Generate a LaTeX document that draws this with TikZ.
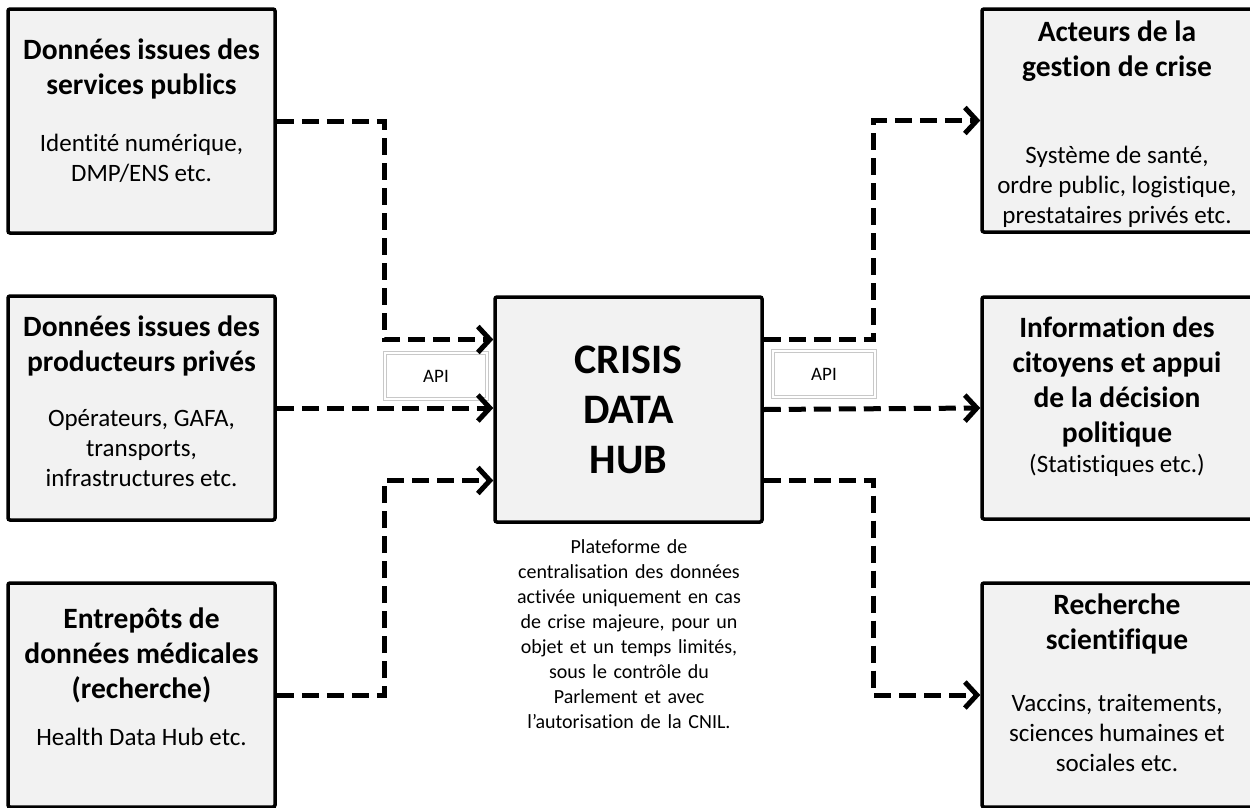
\documentclass[tikz,border=0pt]{standalone}
\usepackage{fontspec}
\setmainfont[Ligatures=NoCommon]{Carlito}
\usetikzlibrary{arrows.meta,positioning}
\definecolor{boxgray}{RGB}{242,242,242}
\definecolor{apiline}{RGB}{200,200,200}

% title, body, gap between them, padding below (raises the text)
\newcommand{\pane}[4]{\vbox{\hsize=255pt\centering
  {\fontsize{29.5}{35}\selectfont\bfseries #1\par}\vskip#3
  {\fontsize{25}{30}\selectfont #2\par}\vskip#4}}

\begin{document}
\begin{tikzpicture}[
  x=1pt, y=-1pt,
  box/.style={draw, line width=3.5pt, fill=boxgray, rounded corners=2pt,
    minimum width=267pt, minimum height=224pt, inner sep=0pt},
  outbox/.style={box, minimum width=330pt},
  apibox/.style={draw=apiline, line width=0.8pt, double=white, double distance=2pt,
    fill=white, minimum width=102pt, minimum height=46pt,
    font=\fontsize{19}{22}\selectfont},
  flow/.style={line width=5pt, dash pattern=on 17pt off 8pt,
    -{Straight Barb[length=12pt, width=26pt]}}
]
\useasboundingbox (0,0) rectangle (1250,807);
\clip (0,0) rectangle (1250,807);

\node[box] (pub)  at (141.5,121) {\pane{Données issues des\\services publics}{Identité numérique,\\DMP/ENS etc.}{27pt}{20pt}};
\node[box] (priv) at (141.5,408) {\pane{Données issues des\\producteurs privés}{Opérateurs, GAFA,\\transports,\\infrastructures etc.}{25pt}{14pt}};
\node[box] (med)  at (141.5,695) {\pane{Entrepôts de\\données médicales\\(recherche)}{Health Data Hub etc.}{17pt}{36pt}};

\node[box, minimum height=225pt, font=\fontsize{42}{50}\selectfont\bfseries, align=center] (hub) at (628.5,409.5) {CRISIS\\DATA\\HUB};

\node[apibox] (apil) at (436,376) {API};
\node[apibox] (apir) at (824,374) {API};

\node[draw=apiline, line width=0.6pt, double=white, double distance=1.5pt, fill=white,
  minimum width=264pt, minimum height=210pt, text width=240pt, align=center,
  font=\fontsize{20}{25}\selectfont] (desc) at (629,634)
  {Plateforme de\\centralisation des données\\activée uniquement en cas\\de crise majeure, pour un\\objet et un temps limités,\\sous le contrôle du\\Parlement et avec\\l’autorisation de la CNIL.};

\node[outbox, minimum height=223pt] (acteurs) at (1147,120.5) {\hbox{\pane{Acteurs de la\\gestion de crise}{Système de santé,\\ordre public, logistique,\\prestataires privés etc.}{57pt}{-8pt}\hskip60pt}};
\node[outbox, minimum height=222pt] (info) at (1147,408) {\hbox{\pane{Information des\\citoyens et appui\\de la décision\\politique}{(Statistiques etc.)}{0pt}{23pt}\hskip60pt}};
\node[outbox] (rech) at (1147,695) {\hbox{\pane{Recherche\\scientifique}{Vaccins, traitements,\\sciences humaines et\\sociales etc.}{32pt}{25pt}\hskip60pt}};

\draw[flow] (pub.east) -- ++(108,0) |- ([yshift=70pt]hub.west);
\draw[flow] (priv.east) -- (hub.west |- priv.east);
\draw[flow] (med.east) -- ++(108,0) |- ([yshift=-71pt]hub.west);

\draw[flow] ([yshift=70pt]hub.east) -- ++(110,0) |- (acteurs.west);
\draw[flow] (hub.east) -- (info.west);
\draw[flow] ([yshift=-71pt]hub.east) -- ++(110,0) |- (rech.west);

\end{tikzpicture}
\end{document}
